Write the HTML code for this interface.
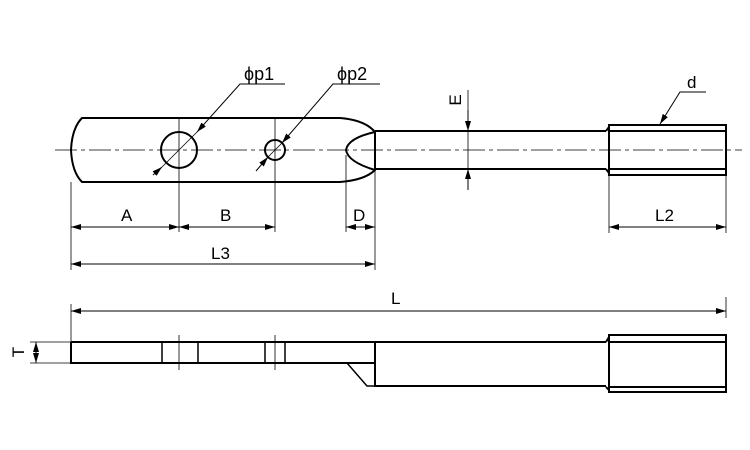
<!DOCTYPE html>
<html><head><meta charset="utf-8"><style>body{margin:0;background:#fff}svg{display:block}text{font-family:"Liberation Sans",sans-serif;fill:#000}</style></head><body>
<svg width="750" height="450" viewBox="0 0 750 450" xmlns="http://www.w3.org/2000/svg">
<defs><marker id="a" viewBox="0 0 10 6" refX="10" refY="3" markerWidth="10" markerHeight="6" orient="auto-start-reverse" markerUnits="userSpaceOnUse"><path d="M0,0L10,3L0,6z" fill="#000"/></marker></defs>
<g fill="none" stroke="#000">
<line x1="55" y1="150" x2="742" y2="150" stroke-width="0.8" stroke-dasharray="22,4,4,4"/>
<path d="M82,118 L340,118 Q365,120 375,132 L375,170 Q365,180 340,182 L82,182 Q72,172 71,150 Q72,128 82,118Z" stroke-width="2"/>
<path d="M375,132 Q348,138 346,150 Q348,162 375,170" stroke-width="2"/>
<circle cx="179" cy="150" r="18" stroke-width="2"/>
<circle cx="275" cy="150" r="10" stroke-width="2"/>
<path d="M375,131 L606,131 M375,169 L606,169" stroke-width="2"/>
<path d="M609,125 L726,125 L726,175 L609,175Z M609,131 L726,131 M609,169 L726,169 M606,131 L609,127 M606,169 L609,173" stroke-width="2"/>
<g stroke-width="0.8">
<line x1="71" y1="182" x2="71" y2="270"/>
<line x1="179" y1="118" x2="179" y2="232"/>
<line x1="275" y1="118" x2="275" y2="232"/>
<line x1="346" y1="155" x2="346" y2="232"/>
<line x1="375" y1="170" x2="375" y2="270"/>
<line x1="609" y1="175" x2="609" y2="233"/>
<line x1="726" y1="175" x2="726" y2="233"/>
<line x1="468" y1="90" x2="468" y2="190"/>
</g>
<g stroke-width="1" marker-end="url(#a)" marker-start="url(#a)">
<line x1="71" y1="227" x2="179" y2="227"/>
<line x1="179" y1="227" x2="275" y2="227"/>
<line x1="346" y1="227" x2="375" y2="227"/>
<line x1="71" y1="264" x2="375" y2="264"/>
<line x1="609" y1="227" x2="726" y2="227"/>
<line x1="71" y1="311" x2="726" y2="311"/>
<line x1="36" y1="342" x2="36" y2="363"/>
</g>
<line x1="468" y1="110" x2="468" y2="131" stroke-width="1" marker-end="url(#a)"/>
<line x1="468" y1="190" x2="468" y2="169" stroke-width="1" marker-end="url(#a)"/>
<path d="M285,84 L240,84 L197,132" stroke-width="1" marker-end="url(#a)"/>
<line x1="153" y1="175" x2="162" y2="167" stroke-width="1" marker-end="url(#a)"/>
<line x1="162" y1="167" x2="197" y2="132" stroke-width="0.8"/>
<path d="M380,84 L333,84 L282,143" stroke-width="1" marker-end="url(#a)"/>
<line x1="256" y1="171" x2="268" y2="157" stroke-width="1" marker-end="url(#a)"/>
<line x1="268" y1="157" x2="282" y2="143" stroke-width="0.8"/>
<path d="M706,92 L680,92 L660,124" stroke-width="1" marker-end="url(#a)"/>
<g stroke-width="0.8">
<line x1="71" y1="304" x2="71" y2="342"/>
<line x1="726" y1="297" x2="726" y2="318"/>
<line x1="30" y1="342" x2="71" y2="342"/>
<line x1="30" y1="363" x2="71" y2="363"/>
<line x1="179" y1="335" x2="179" y2="370"/>
<line x1="275" y1="335" x2="275" y2="370"/>
</g>
<path d="M71,342 L375,342 L375,386 L606,386 M71,342 L71,363 L375,363 M375,342 L606,342" stroke-width="2"/>
<path d="M347,363 L367,386 L375,386" stroke-width="1.5"/>
<path d="M162,342 L162,363 M198,342 L198,363 M265,342 L265,363 M285,342 L285,363" stroke-width="1.5"/>
<path d="M609,335 L726,335 L726,392 L609,392Z M609,342 L726,342 M609,387 L726,387 M606,342 L609,337 M606,387 L609,390" stroke-width="2"/>
</g>
<g font-size="17">
<text x="121" y="221">A</text>
<text x="220" y="221">B</text>
<text x="353" y="221">D</text>
<text x="211" y="259">L3</text>
<text x="655" y="221">L2</text>
<text x="391" y="304">L</text>
<text x="687" y="88">d</text>
<text x="244" y="80" font-size="18">ϕp1</text>
<text x="337" y="80" font-size="18">ϕp2</text>
<text transform="translate(461,100) rotate(-90)" text-anchor="middle">E</text>
<text transform="translate(24,352) rotate(-90)" text-anchor="middle">T</text>
</g>
</svg>
</body></html>
